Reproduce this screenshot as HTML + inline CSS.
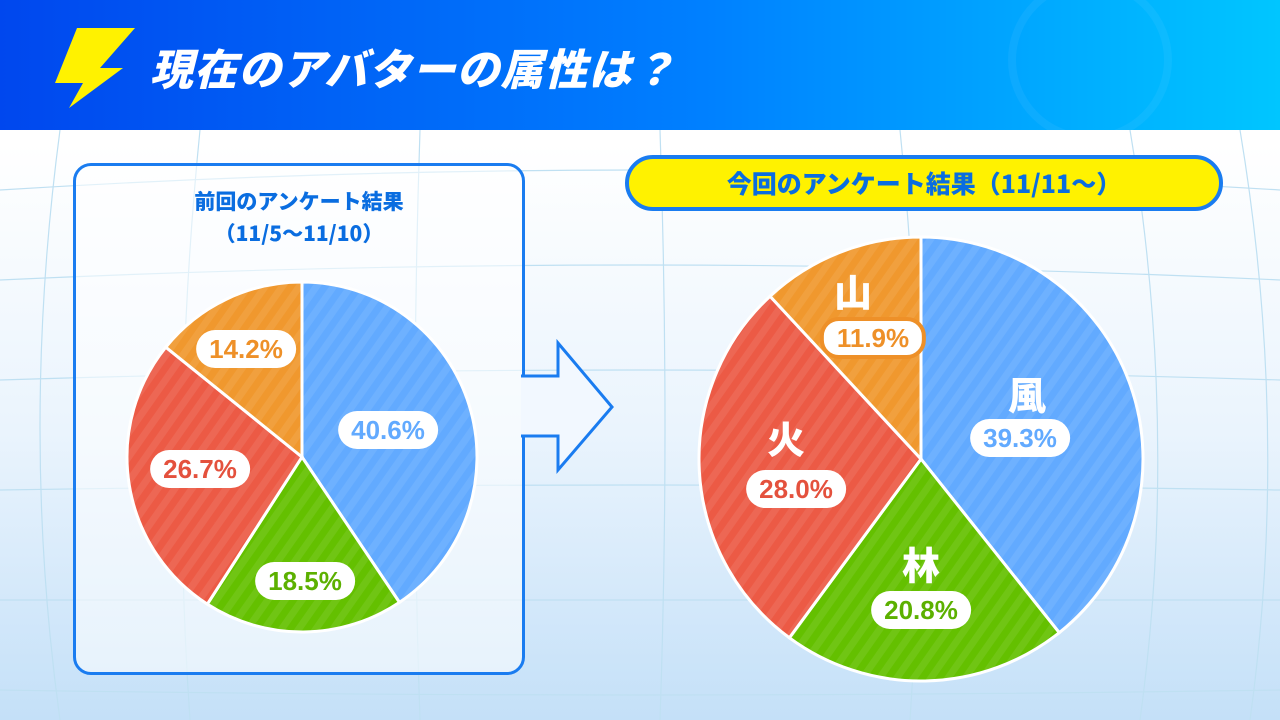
<!DOCTYPE html>
<html><head><meta charset="utf-8"><style>
body{margin:0;width:1280px;height:720px;overflow:hidden;font-family:"Liberation Sans","Noto Sans CJK JP",sans-serif;}
.bg{position:absolute;left:0;top:0;width:1280px;height:720px;background:linear-gradient(180deg,#ffffff 20%,#eaf4fd 60%,#c4e0f8 100%);}
.hdr{position:absolute;left:0;top:0;width:1280px;height:130px;background:linear-gradient(90deg,#0047ee 0%,#0080ff 55%,#00c6ff 100%);}
.title{position:absolute;left:150px;top:36px;color:#fff;font-size:43px;font-weight:900;font-style:italic;letter-spacing:1px;font-family:"Noto Sans CJK JP",sans-serif;}
.lbox{position:absolute;left:73px;top:163px;width:446px;height:506px;border:3px solid #1a7cf0;border-radius:18px;background:rgba(255,255,255,0.55);}
.lt{position:absolute;left:73px;top:185px;width:452px;text-align:center;color:#0a6de0;font-weight:900;font-size:21px;line-height:32px;font-family:"Noto Sans CJK JP",sans-serif;}
.pill{position:absolute;left:625px;top:155px;width:590px;height:48px;border:4px solid #1a7cf0;border-radius:28px;background:#fff200;text-align:center;color:#0a6de0;font-weight:900;font-size:25px;line-height:48px;font-family:"Noto Sans CJK JP",sans-serif;}
.p{position:absolute;transform:translate(-50%,-50%);background:#fff;border-radius:19px;padding:0 13px;height:38px;line-height:38px;font-weight:bold;font-size:26px;}
.k{position:absolute;transform:translate(-50%,-50%);color:#fff;font-weight:900;font-size:38px;font-family:"Noto Sans CJK JP",sans-serif;}
</style></head><body>
<div class="bg"></div>
<svg style="position:absolute;left:0;top:130px" width="1280" height="590">
<g stroke="#bfe0f2" stroke-width="1.2" fill="none">
<path d="M0 60 Q640 20 1280 60"/><path d="M0 150 Q640 120 1280 150"/><path d="M0 250 Q640 230 1280 250"/><path d="M0 360 Q640 350 1280 360"/><path d="M0 470 Q640 470 1280 470"/><path d="M0 560 Q640 570 1280 560"/>
<path d="M60 0 Q20 300 60 590"/><path d="M200 0 Q170 300 190 590"/><path d="M420 0 Q410 300 420 590"/><path d="M660 0 Q670 300 660 590"/><path d="M900 0 Q930 300 910 590"/><path d="M1130 0 Q1180 300 1140 590"/><path d="M1240 0 Q1290 300 1250 590"/>
</g></svg>
<div class="hdr"></div>
<svg style="position:absolute;left:0;top:0" width="1280" height="130">
<polygon points="77,28 135,28 100,68 123,68 69,108 83,83 55,83" fill="#fff200"/>
<circle cx="1090" cy="60" r="78" fill="none" stroke="rgba(255,255,255,0.05)" stroke-width="8"/>
</svg>
<div class="title">現在のアバターの属性は？</div>
<div class="lbox"></div>
<svg style="position:absolute;left:0;top:0" width="1280" height="720">
<path d="M521 376 L558 376 L558 343 L612 407 L558 470 L558 436 L521 436" fill="#f2f8ff" stroke="#1a7cf0" stroke-width="3"/>
<defs><pattern id="st" width="14" height="14" patternUnits="userSpaceOnUse" patternTransform="rotate(35)"><rect width="7" height="14" fill="rgba(255,255,255,0.08)"/></pattern></defs>
<g id="pies"></g>
</svg>
<div class="lt">前回のアンケート結果<br>（11/5〜11/10）</div>
<div class="pill">今回のアンケート結果（11/11〜）</div>
<div class="p" style="left:388px;top:430px;color:#62aaff">40.6%</div>
<div class="p" style="left:305px;top:581px;color:#5cb000">18.5%</div>
<div class="p" style="left:200px;top:469px;color:#e4513d">26.7%</div>
<div class="p" style="left:246px;top:349px;color:#ee9028">14.2%</div>
<div class="k" style="left:1027px;top:393px">風</div>
<div class="p" style="left:1020px;top:438px;color:#62aaff">39.3%</div>
<div class="k" style="left:921px;top:563px">林</div>
<div class="p" style="left:921px;top:610px;color:#5cb000">20.8%</div>
<div class="k" style="left:786px;top:437px">火</div>
<div class="p" style="left:796px;top:489px;color:#e4513d">28.0%</div>
<div class="k" style="left:853px;top:290px">山</div>
<div class="p" style="left:873px;top:338px;color:#ee9028;border:4px solid #ee9028;line-height:34px;height:34px">11.9%</div>
<script>
function pie(cx,cy,r,vals){var cols=["#62aaff","#64c000","#ec5a45","#f0982e"];var a=0,s="";
for(var i=0;i<4;i++){var b=a+vals[i]/100*2*Math.PI;
var x1=cx+r*Math.sin(a),y1=cy-r*Math.cos(a),x2=cx+r*Math.sin(b),y2=cy-r*Math.cos(b);
var d="M"+cx+" "+cy+" L"+x1+" "+y1+" A"+r+" "+r+" 0 "+(b-a>Math.PI?1:0)+" 1 "+x2+" "+y2+" Z";
s+='<path d="'+d+'" fill="'+cols[i]+'" stroke="#fff" stroke-width="3"/><path d="'+d+'" fill="url(#st)"/>';a=b;}
return s;}
document.getElementById("pies").innerHTML=pie(302,457,175,[40.6,18.5,26.7,14.2])+pie(921,459,222,[39.3,20.8,28.0,11.9]);
</script>
</body></html>
